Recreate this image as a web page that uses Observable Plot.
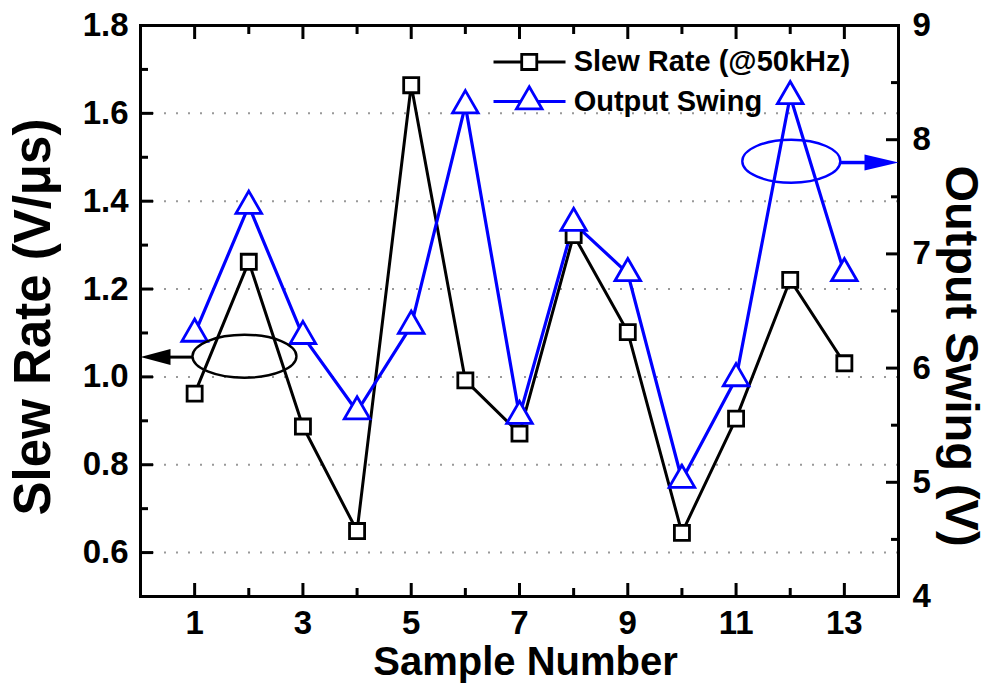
<!DOCTYPE html>
<html><head><meta charset="utf-8">
<script src="https://cdn.jsdelivr.net/npm/d3@7"></script>
<script src="https://cdn.jsdelivr.net/npm/@observablehq/plot@0.6"></script>
<style>body{margin:0;background:#fff}svg{display:block}</style>
</head><body><div id="chart"></div>
<script>
const samples = [1, 2, 3, 4, 5, 6, 7, 8, 9, 10, 11, 12, 13];
const slewRate = [0.962, 1.262, 0.887, 0.649, 1.664, 0.992, 0.871, 1.323, 1.102, 0.645, 0.905, 1.221, 1.031];
const outputSwing = [6.30, 7.42, 6.28, 5.62, 6.37, 8.30, 5.58, 7.27, 6.83, 5.02, 5.91, 8.38, 6.83];
const xTicks = [1, 3, 5, 7, 9, 11, 13];
const xMinor = [2, 4, 6, 8, 10, 12];
const leftTicks = [0.6, 0.8, 1.0, 1.2, 1.4, 1.6, 1.8];
const leftMinor = [0.7, 0.9, 1.1, 1.3, 1.5, 1.7];
const gridTicks = [0.6, 0.8, 1.0, 1.2, 1.4, 1.6];
const rightTicks = [4, 5, 6, 7, 8, 9];
const rightMinor = [4.5, 5.5, 6.5, 7.5, 8.5];
const seriesNames = ["Slew Rate (@50kHz)", "Output Swing"];

const BLUE = "#0000ff";
const FONT = "'Liberation Sans', Arial, sans-serif";
// map right-axis values (4..9) onto left scale (0.5..1.8)
const toLeft = v => 0.5 + (v - 4) * 1.3 / 5;

const slewData = samples.map((s, i) => ({x: s, y: slewRate[i]}));
const swingData = samples.map((s, i) => ({x: s, y: toLeft(outputSwing[i])}));

const ellipseSym = (rx, ry) => ({draw(ctx) {
  const k = 0.5523;
  ctx.moveTo(rx, 0);
  ctx.bezierCurveTo(rx, ry * k, rx * k, ry, 0, ry);
  ctx.bezierCurveTo(-rx * k, ry, -rx, ry * k, -rx, 0);
  ctx.bezierCurveTo(-rx, -ry * k, -rx * k, -ry, 0, -ry);
  ctx.bezierCurveTo(rx * k, -ry, rx, -ry * k, rx, 0);
  ctx.closePath();
}});
const headSym = (dir, len, hw) => ({draw(ctx) {
  ctx.moveTo(0, 0);
  ctx.lineTo(-dir * len, -hw);
  ctx.lineTo(-dir * len, hw);
  ctx.closePath();
}});

const bold = {fontWeight: "bold", fontFamily: FONT, fill: "black"};

const chart = Plot.plot({
  width: 991,
  height: 697,
  marginLeft: 140,
  marginRight: 93,
  marginTop: 25,
  marginBottom: 101,
  style: {fontFamily: FONT, background: "white", color: "black"},
  x: {domain: [0, 14], axis: null},
  y: {domain: [0.5, 1.8], axis: null},
  marks: [
    Plot.gridY(gridTicks, {stroke: "#999", strokeOpacity: 1, strokeWidth: 2, strokeDasharray: "2,10"}),
    // inward ticks
    Plot.axisX(xTicks, {anchor: "bottom", tickSize: -13, strokeWidth: 3, tickFormat: () => "", label: null}),
    Plot.axisX(xMinor, {anchor: "bottom", tickSize: -8, strokeWidth: 3, tickFormat: () => "", label: null}),
    Plot.axisX(xTicks, {anchor: "top", tickSize: -13, strokeWidth: 3, tickFormat: () => "", label: null}),
    Plot.axisX(xMinor, {anchor: "top", tickSize: -8, strokeWidth: 3, tickFormat: () => "", label: null}),
    Plot.axisY(leftTicks, {anchor: "left", tickSize: -13, strokeWidth: 3, tickFormat: () => "", label: null}),
    Plot.axisY(leftMinor, {anchor: "left", tickSize: -8, strokeWidth: 3, tickFormat: () => "", label: null}),
    Plot.axisY(rightTicks.map(toLeft), {anchor: "right", tickSize: -13, strokeWidth: 3, tickFormat: () => "", label: null}),
    Plot.axisY(rightMinor.map(toLeft), {anchor: "right", tickSize: -8, strokeWidth: 3, tickFormat: () => "", label: null}),
    // tick labels
    Plot.text(xTicks, {x: d => d, frameAnchor: "bottom", dy: 27, lineAnchor: "middle", textAnchor: "middle", text: d => String(d), fontSize: 33, ...bold}),
    Plot.text(leftTicks, {y: d => d, frameAnchor: "left", dx: -12, textAnchor: "end", lineAnchor: "middle", text: d => d.toFixed(1), fontSize: 33, ...bold}),
    Plot.text(rightTicks, {y: d => toLeft(d), frameAnchor: "right", dx: 14, textAnchor: "start", lineAnchor: "middle", text: d => String(d), fontSize: 33, ...bold}),
    Plot.frame({stroke: "black", strokeWidth: 3}),
    // series
    Plot.line(slewData, {x: "x", y: "y", stroke: "black", strokeWidth: 3}),
    Plot.line(swingData, {x: "x", y: "y", stroke: BLUE, strokeWidth: 3.2}),
    Plot.dot(slewData, {x: "x", y: "y", symbol: "square", r: 8.5, fill: "white", stroke: "black", strokeWidth: 2.8}),
    Plot.dot(swingData, {x: "x", y: "y", symbol: "triangle", r: 9.5, fill: "white", stroke: BLUE, strokeWidth: 2.8}),
    // annotations: ellipses + arrows to axes
    Plot.dot([{x: 1.92, y: 1.047}], {x: "x", y: "y", symbol: ellipseSym(52, 21.5), fill: "none", stroke: "black", strokeWidth: 2.4}),
    Plot.link([{x1: 0.96, x2: 0.4, y: 1.045}], {x1: "x1", x2: "x2", y1: "y", y2: "y", stroke: "black", strokeWidth: 3}),
    Plot.dot([{x: 0, y: 1.045}], {x: "x", y: "y", symbol: headSym(-1, 30, 8), fill: "black", stroke: "none", r: 5}),
    Plot.dot([{x: 12.02, y: 1.491}], {x: "x", y: "y", symbol: ellipseSym(49, 21.5), fill: "none", stroke: BLUE, strokeWidth: 2.4}),
    Plot.link([{x1: 12.93, x2: 13.5, y: 1.488}], {x1: "x1", x2: "x2", y1: "y", y2: "y", stroke: BLUE, strokeWidth: 3.5}),
    Plot.dot([{x: 14, y: 1.488}], {x: "x", y: "y", symbol: headSym(1, 34, 8), fill: BLUE, stroke: "none", r: 5}),
    // legend
    Plot.link([{x1: 6.52, x2: 7.85, y: 1.717}], {x1: "x1", x2: "x2", y1: "y", y2: "y", stroke: "black", strokeWidth: 3}),
    Plot.dot([{x: 7.18, y: 1.717}], {x: "x", y: "y", symbol: "square", r: 8.5, fill: "white", stroke: "black", strokeWidth: 2.8}),
    Plot.text([{x: 8.0, y: 1.717, t: seriesNames[0]}], {x: "x", y: "y", text: "t", textAnchor: "start", lineAnchor: "middle", fontSize: 29, ...bold}),
    Plot.link([{x1: 6.52, x2: 7.85, y: 1.627}], {x1: "x1", x2: "x2", y1: "y", y2: "y", stroke: BLUE, strokeWidth: 3.2}),
    Plot.dot([{x: 7.18, y: 1.627}], {x: "x", y: "y", symbol: "triangle", r: 9.5, fill: "white", stroke: BLUE, strokeWidth: 2.8}),
    Plot.text([{x: 8.0, y: 1.627, t: seriesNames[1]}], {x: "x", y: "y", text: "t", textAnchor: "start", lineAnchor: "middle", fontSize: 29, ...bold}),
    // axis titles
    Plot.text(["Slew Rate (V/μs)"], {frameAnchor: "left", dx: -107, dy: 6, rotate: -90, textAnchor: "middle", lineAnchor: "middle", fontSize: 51, ...bold}),
    Plot.text(["Output Swing (V)"], {frameAnchor: "right", dx: 63, dy: 45, rotate: 90, textAnchor: "middle", lineAnchor: "middle", fontSize: 47, ...bold}),
    Plot.text(["Sample Number"], {frameAnchor: "bottom", dx: 6, dy: 66, textAnchor: "middle", lineAnchor: "middle", fontSize: 40, ...bold})
  ]
});
document.getElementById("chart").appendChild(chart);
</script>
</body></html>
